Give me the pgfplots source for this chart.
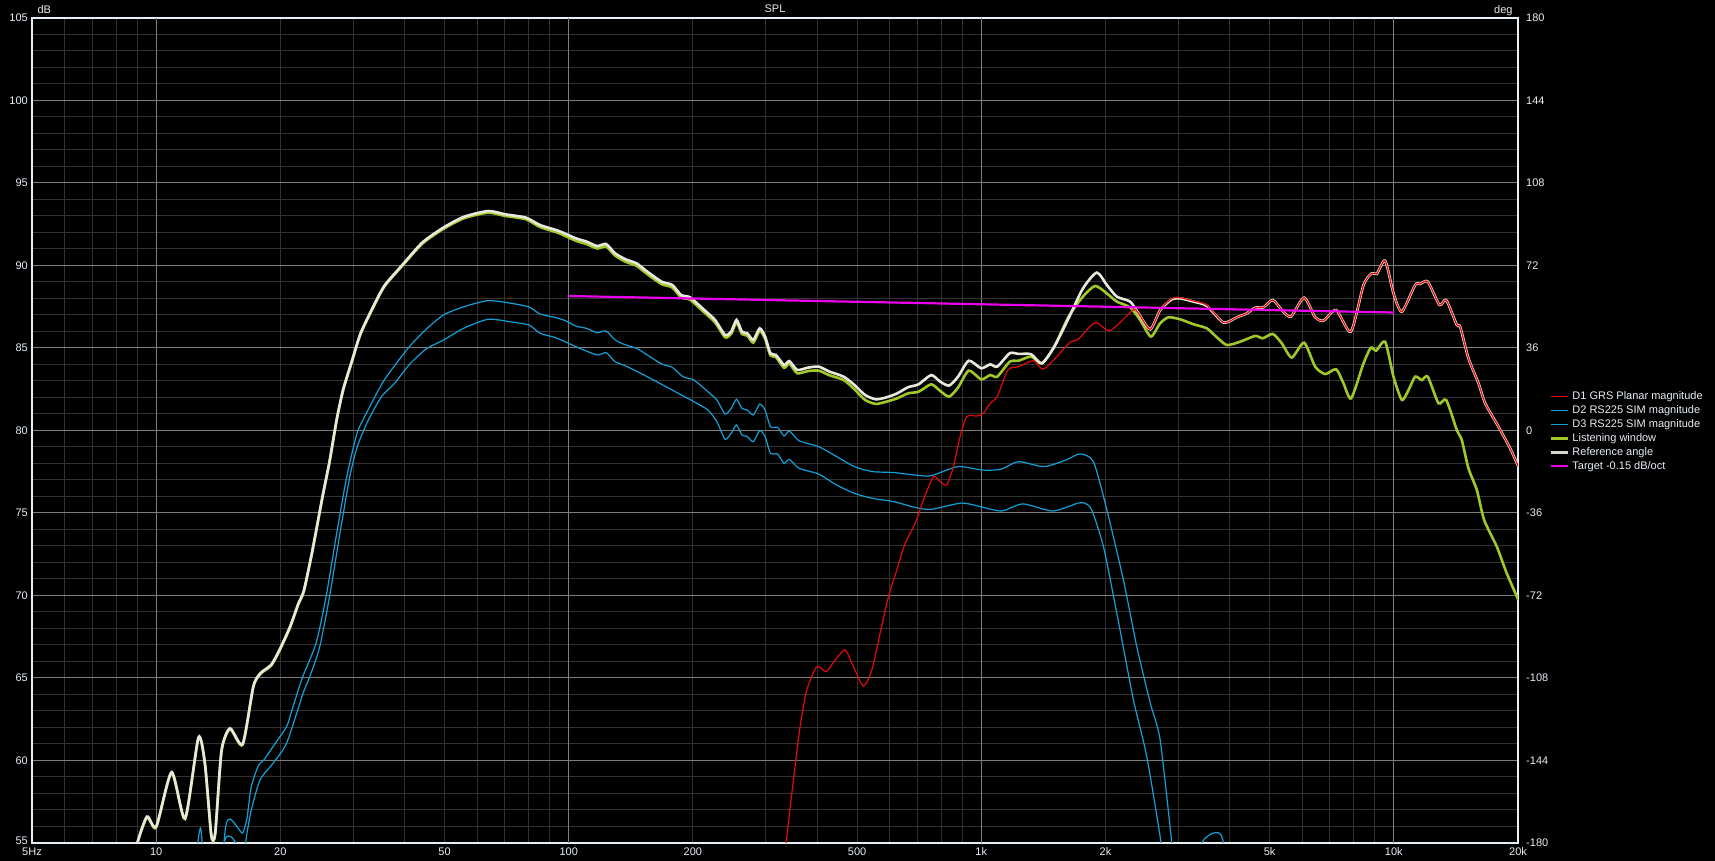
\documentclass[border=0pt]{standalone}
\usepackage{fontspec}
\setmainfont{Liberation Sans}
\usepackage{pgfplots}
\usepackage{pgfplotstable}
\pgfplotsset{compat=1.18}
\definecolor{gmin}{RGB}{50,50,50}
\definecolor{gmaj}{RGB}{125,125,125}
\definecolor{txt}{RGB}{232,238,245}
\definecolor{cref}{RGB}{232,232,220}
\definecolor{clw}{RGB}{160,200,40}
\definecolor{cd1}{RGB}{228,8,8}
\definecolor{cd2}{RGB}{20,160,215}
\definecolor{ctg}{RGB}{235,0,235}

\pgfplotstableread{
f db
8.7 53.0
9.0 55.0
9.5 56.6
10.0 56.0
10.9 59.3
11.75 56.5
12.66 61.4
13.13 59.8
13.6 55.5
13.9 55.6
14.4 60.6
15.1 61.95
16.2 61.0
17.2 64.5
17.9 65.3
19.0 65.8
19.9 66.7
21.1 68.1
22.1 69.5
22.8 70.3
23.9 72.7
25.3 76.0
26.3 78.1
27.4 80.7
28.4 82.5
29.8 84.2
31.3 85.9
33.8 87.65
35.8 88.8
39.4 90.0
44.2 91.4
49.7 92.3
55.7 92.95
63.8 93.3
70.2 93.1
78.8 92.9
85.2 92.45
94.2 92.11
104 91.65
110.4 91.45
117.2 91.18
123.2 91.3
129.5 90.74
137.5 90.37
146 90.13
155 89.63
167.9 89.02
178.2 88.82
187.3 88.21
196.9 88.07
213.2 87.3
226.3 86.7
239.3 85.79
247.6 85.99
255.1 86.7
262.9 85.99
270.9 85.89
280.2 85.49
290.4 86.19
299.2 85.69
308.3 84.68
317.7 84.58
332.6 83.97
342.6 84.21
357.9 83.67
380 83.81
403.5 83.87
428.3 83.57
463.9 83.26
492.6 82.76
522.9 82.15
555.1 81.89
589.3 82.01
625.6 82.25
664.2 82.62
705.1 82.8
756.3 83.36
794.9 82.96
835.5 82.72
878.2 83.26
932.3 84.23
999.6 83.77
1051 84.01
1093 83.87
1172 84.68
1232 84.64
1321 84.62
1402 84.07
1503 85.08
1628 86.8
1763 88.6
1905 89.57
2015 88.82
2131 88.11
2296 87.81
2404 87.1
2567 86.13
2714 87.3
2896 87.95
3034 88.01
3268 87.81
3522 87.55
3865 86.54
4164 86.86
4401 87.1
4611 87.44
4831 87.47
5090 87.91
5352 87.3
5627 86.9
6062 88.05
6447 86.86
6754 86.66
7249 87.3
7867 85.99
8444 88.82
8844 89.53
9093 89.49
9528 90.29
9982 88.31
10457 87.2
11264 88.82
11582 88.88
12088 89.02
12901 87.61
13394 87.91
14214 86.4
14480 86.29
15170 84.37
16044 82.86
16652 81.65
17936 80.23
19140 78.92
20045 77.81
}\refangle

\pgfplotstableread{
f db
8.7 52.95
9.0 54.95
9.5 56.55
10.0 55.95
10.9 59.25
11.75 56.45
12.66 61.35
13.13 59.75
13.6 55.45
13.9 55.55
14.4 60.55
15.1 61.9
16.2 60.95
17.2 64.45
17.9 65.25
19.0 65.75
19.9 66.65
21.1 68.05
22.1 69.45
22.8 70.25
23.9 72.65
25.3 75.95
26.3 78.05
27.4 80.65
28.4 82.45
29.8 84.15
31.3 85.85
33.8 87.6
35.8 88.75
39.4 89.95
44.2 91.33
49.7 92.22
55.7 92.86
63.8 93.2
70.2 93.0
78.8 92.8
85.2 92.33
94.2 91.98
104 91.5
110.4 91.3
117.2 91.03
123.2 91.15
129.5 90.6
137.5 90.22
146 89.98
155 89.48
167.9 88.87
178.2 88.67
187.3 88.06
196.9 87.92
213.2 87.15
226.3 86.55
239.3 85.65
247.6 85.85
255.1 86.55
262.9 85.85
270.9 85.75
280.2 85.32
290.4 86.05
299.2 85.55
308.3 84.55
317.7 84.45
332.6 83.8
342.6 84.05
357.9 83.47
380 83.6
403.5 83.63
428.3 83.35
463.9 83.06
492.6 82.5
522.9 81.85
555.1 81.61
589.3 81.75
625.6 81.95
664.2 82.25
705.1 82.35
756.3 82.8
794.9 82.4
835.5 82.05
878.2 82.6
932.3 83.63
999.6 83.1
1051 83.36
1093 83.26
1172 84.17
1232 84.23
1321 84.48
1402 84.07
1503 85.08
1628 86.9
1763 88.11
1888 88.76
2015 88.31
2131 87.81
2296 87.46
2427 86.7
2576 85.69
2714 86.5
2843 86.86
3034 86.74
3268 86.44
3522 86.19
3723 85.65
3938 85.18
4242 85.38
4611 85.73
4812 85.59
5090 85.85
5352 85.28
5656 84.42
6062 85.32
6447 83.87
6817 83.42
7249 83.71
7551 82.86
7882 81.95
8444 84.07
8797 85.02
9061 84.84
9528 85.38
9982 83.26
10457 81.85
10855 82.45
11264 83.26
11690 83.06
12088 83.26
12831 81.65
13394 81.85
14214 80.03
14613 79.42
15170 77.7
15897 76.39
16558 74.57
17768 72.96
18787 71.34
20045 69.73
}\lw

\pgfplotstableread{
f db
320 50
336.4 55.0
350.5 58.82
363.8 62.05
377.6 64.27
399.3 65.69
420.6 65.38
442.3 66.09
467.7 66.7
489.8 65.69
518.1 64.51
542.8 65.48
568.6 67.71
595.7 69.93
624.1 71.55
653.8 73.16
691.3 74.37
724.2 75.79
765.6 77.2
794.9 76.9
825 76.7
856 77.81
888.6 79.63
922.3 80.84
975.2 80.88
1012 81.04
1051 81.65
1093 82.05
1160 83.67
1232 83.87
1335 84.23
1411 83.71
1504 84.32
1645 85.38
1712 85.49
1835 86.3
1905 86.54
2055 86.05
2333 87.3
2404 87.1
2567 86.13
2714 87.3
2896 88.0
3034 88.05
3268 87.85
3522 87.6
3865 86.54
4164 86.86
4401 87.1
4611 87.44
4831 87.47
5090 87.91
5352 87.3
5627 86.9
6062 88.05
6447 86.86
6754 86.66
7249 87.3
7867 85.99
8444 88.82
8844 89.53
9093 89.49
9528 90.29
9982 88.31
10457 87.2
11264 88.82
11582 88.88
12088 89.02
12901 87.61
13394 87.91
14214 86.4
14480 86.29
15170 84.37
16044 82.86
16652 81.65
17936 80.23
19140 78.92
20045 77.81
}\done

\pgfplotstableread{
f db
12.2 52
12.8 55.9
13.2 52
14.0 50
14.7 55.8
15.1 56.45
15.7 56.0
16.2 55.6
16.6 56.5
17.0 58.4
17.7 59.7
18.2 60.0
19.2 60.84
20.7 62.05
21.3 63.0
22.6 65.0
24.4 67.1
25.8 69.9
27.4 73.8
29.0 77.26
30.7 79.85
32.5 81.16
35.8 83.1
41.0 85.05
45.1 86.13
49.7 87.0
55.7 87.5
63.8 87.87
72.9 87.7
80.2 87.48
85.2 87.06
92.3 86.86
98 86.66
104 86.33
110.4 86.19
117.2 85.93
123.2 86.03
129.5 85.49
137.5 85.18
146 84.98
155 84.58
167.9 84.03
178.2 83.83
189.2 83.26
200.9 83.06
217.5 82.35
228.6 81.85
239.3 81.0
247.6 81.34
255.1 81.89
262.9 81.34
270.9 81.24
280.2 80.94
290.4 81.6
299.2 81.24
308.3 80.23
320.8 80.19
332.6 79.67
342.6 79.97
361.6 79.38
403.5 79.02
445.8 78.42
492.6 77.81
544.1 77.51
613.3 77.45
691 77.3
756 77.26
878 77.81
1010 77.6
1115 77.65
1232 78.11
1417 77.81
1600 78.2
1736 78.58
1870 78.11
2015 75.2
2211 70.94
2382 66.9
2567 63.5
2714 61.24
2896 55.0
3100 48
3300 53
3424 55.0
3654 55.6
3865 55.0
4100 48
}\dtwo

\pgfplotstableread{
f db
13.5 50
14.6 55.0
15.1 55.4
15.6 55.0
16.2 54.0
16.6 55.6
17.0 57.0
17.85 58.82
19.2 59.83
20.7 61.04
22.7 64.07
23.5 65.0
24.9 66.87
26.3 69.9
27.9 73.8
29.5 77.26
30.7 79.0
32.5 80.51
35.1 82.02
37.9 82.88
41.0 83.97
45.1 84.94
49.7 85.48
55.7 86.2
63.8 86.74
72.9 86.57
80.2 86.39
85.2 85.89
92.3 85.65
98 85.38
104 85.08
117.2 84.58
123.2 84.72
129.5 84.17
137.5 83.91
155 83.26
178.2 82.45
200.9 81.75
217.5 81.24
228.6 80.54
239.3 79.47
247.6 79.83
255.1 80.33
262.9 79.73
270.9 79.63
280.2 79.32
290.4 79.99
299.2 79.63
308.3 78.62
320.8 78.58
332.6 78.01
342.6 78.25
361.6 77.71
403.5 77.36
445.8 76.7
492.6 76.19
544.1 75.89
613.3 75.69
691 75.34
756 75.22
896 75.6
1012 75.34
1121 75.12
1262 75.55
1490 75.12
1712 75.59
1785 75.59
1853 75.18
1978 72.96
2131 68.92
2338 63.67
2519 60.23
2729 54.98
2900 50
}\dthree

\pgfplotstableread{
f db
100 88.15
10000 87.15
}\target

\begin{document}
\begin{tikzpicture}
\fill[black] (0,0) rectangle (1715pt,861pt);
\begin{axis}[
  at={(32pt,18pt)}, anchor=south west,
  width=1486pt, height=825pt, scale only axis,
  xmode=log, log basis x=10,
  xmin=5, xmax=20000, ymin=55, ymax=105,
  xtick={5,10,20,50,100,200,500,1000,2000,5000,10000,20000},
  xticklabels={5Hz,10,20,50,100,200,500,1k,2k,5k,10k,20k},
  minor xtick={6,7,8,9,20,30,40,50,60,70,80,90,200,300,400,500,600,700,800,900,2000,3000,4000,5000,6000,7000,8000,9000},
  extra x ticks={10,100,1000,10000}, extra x tick labels={},
  extra x tick style={grid=major},
  xmajorgrids=false, xminorgrids=true,
  ytick={55,60,...,105}, minor y tick num=4,
  yticklabel={\ifnum\ticknum=0\raisebox{4pt}{\pgfmathprintnumber{\tick}}\else\pgfmathprintnumber{\tick}\fi},
  ymajorgrids=true, yminorgrids=true,
  major grid style={gmaj, line width=1pt},
  minor grid style={gmin, line width=1pt},
  major tick length=0pt, minor tick length=0pt,
  axis line style={txt, line width=1.3pt},
  /pgf/number format/assume math mode=true,
  tick label style={text=txt, font=\fontsize{11}{13}\selectfont},
  xticklabel style={inner sep=0pt, anchor=north, yshift=-4.5pt},
  yticklabel style={inner sep=0pt, anchor=east, xshift=-4pt},
  clip=true,
  legend cell align=left,
  legend style={at={(1.0209,0.548)}, anchor=north west, draw=none, fill=none,
    text=txt, font=\fontsize{11}{12}\selectfont, inner sep=0pt, row sep=3.5pt,
    nodes={inner xsep=3.5pt, inner ysep=0pt, text height=8pt, text depth=2.5pt}},
]
\addplot[clw, line width=2.6pt, smooth, tension=0.4, forget plot] table[x=f,y=db] {\lw};
\addplot[cref, line width=2.6pt, smooth, tension=0.4, forget plot] table[x=f,y=db] {\refangle};
\addplot[cd2, line width=1.2pt, smooth, tension=0.4, forget plot] table[x=f,y=db] {\dtwo};
\addplot[cd2, line width=1.2pt, smooth, tension=0.4, forget plot] table[x=f,y=db] {\dthree};
\addplot[cd1, line width=1.2pt, smooth, tension=0.4, forget plot] table[x=f,y=db] {\done};
\addplot[ctg, line width=2.2pt, forget plot] table[x=f,y=db] {\target};

\addlegendimage{cd1, line width=1pt}
\addlegendentry{D1 GRS Planar magnitude}
\addlegendimage{cd2, line width=1pt}
\addlegendentry{D2 RS225 SIM magnitude}
\addlegendimage{cd2, line width=1pt}
\addlegendentry{D3 RS225 SIM magnitude}
\addlegendimage{clw, line width=2.6pt}
\addlegendentry{Listening window}
\addlegendimage{cref!85!gray, line width=2.6pt}
\addlegendentry{Reference angle}
\addlegendimage{ctg, line width=2pt}
\addlegendentry{Target -0.15 dB/oct}
\end{axis}
\begin{axis}[
  at={(32pt,18pt)}, anchor=south west,
  width=1486pt, height=825pt, scale only axis,
  xmin=0, xmax=1, ymin=-180, ymax=180,
  hide x axis, axis y line*=right,
  y axis line style={draw=none},
  ytick={-180,-144,-108,-72,-36,0,36,72,108,144,180},
  yticklabels={-180,-144,-108,-72,-36,0,36,72,108,144,180},
  major tick length=0pt,
  yticklabel style={text=txt, font=\fontsize{11}{13}\selectfont, inner sep=0pt, anchor=west, xshift=8pt},
]
\end{axis}
\node[anchor=base west, text=txt, font=\fontsize{11}{13}\selectfont] at (34pt,847pt) {dB};
\node[anchor=base east, text=txt, font=\fontsize{11}{13}\selectfont] at (1516pt,847pt) {deg};
\node[anchor=base, text=txt, font=\fontsize{11}{13}\selectfont] at (775pt,848pt) {SPL};
\end{tikzpicture}
\end{document}
